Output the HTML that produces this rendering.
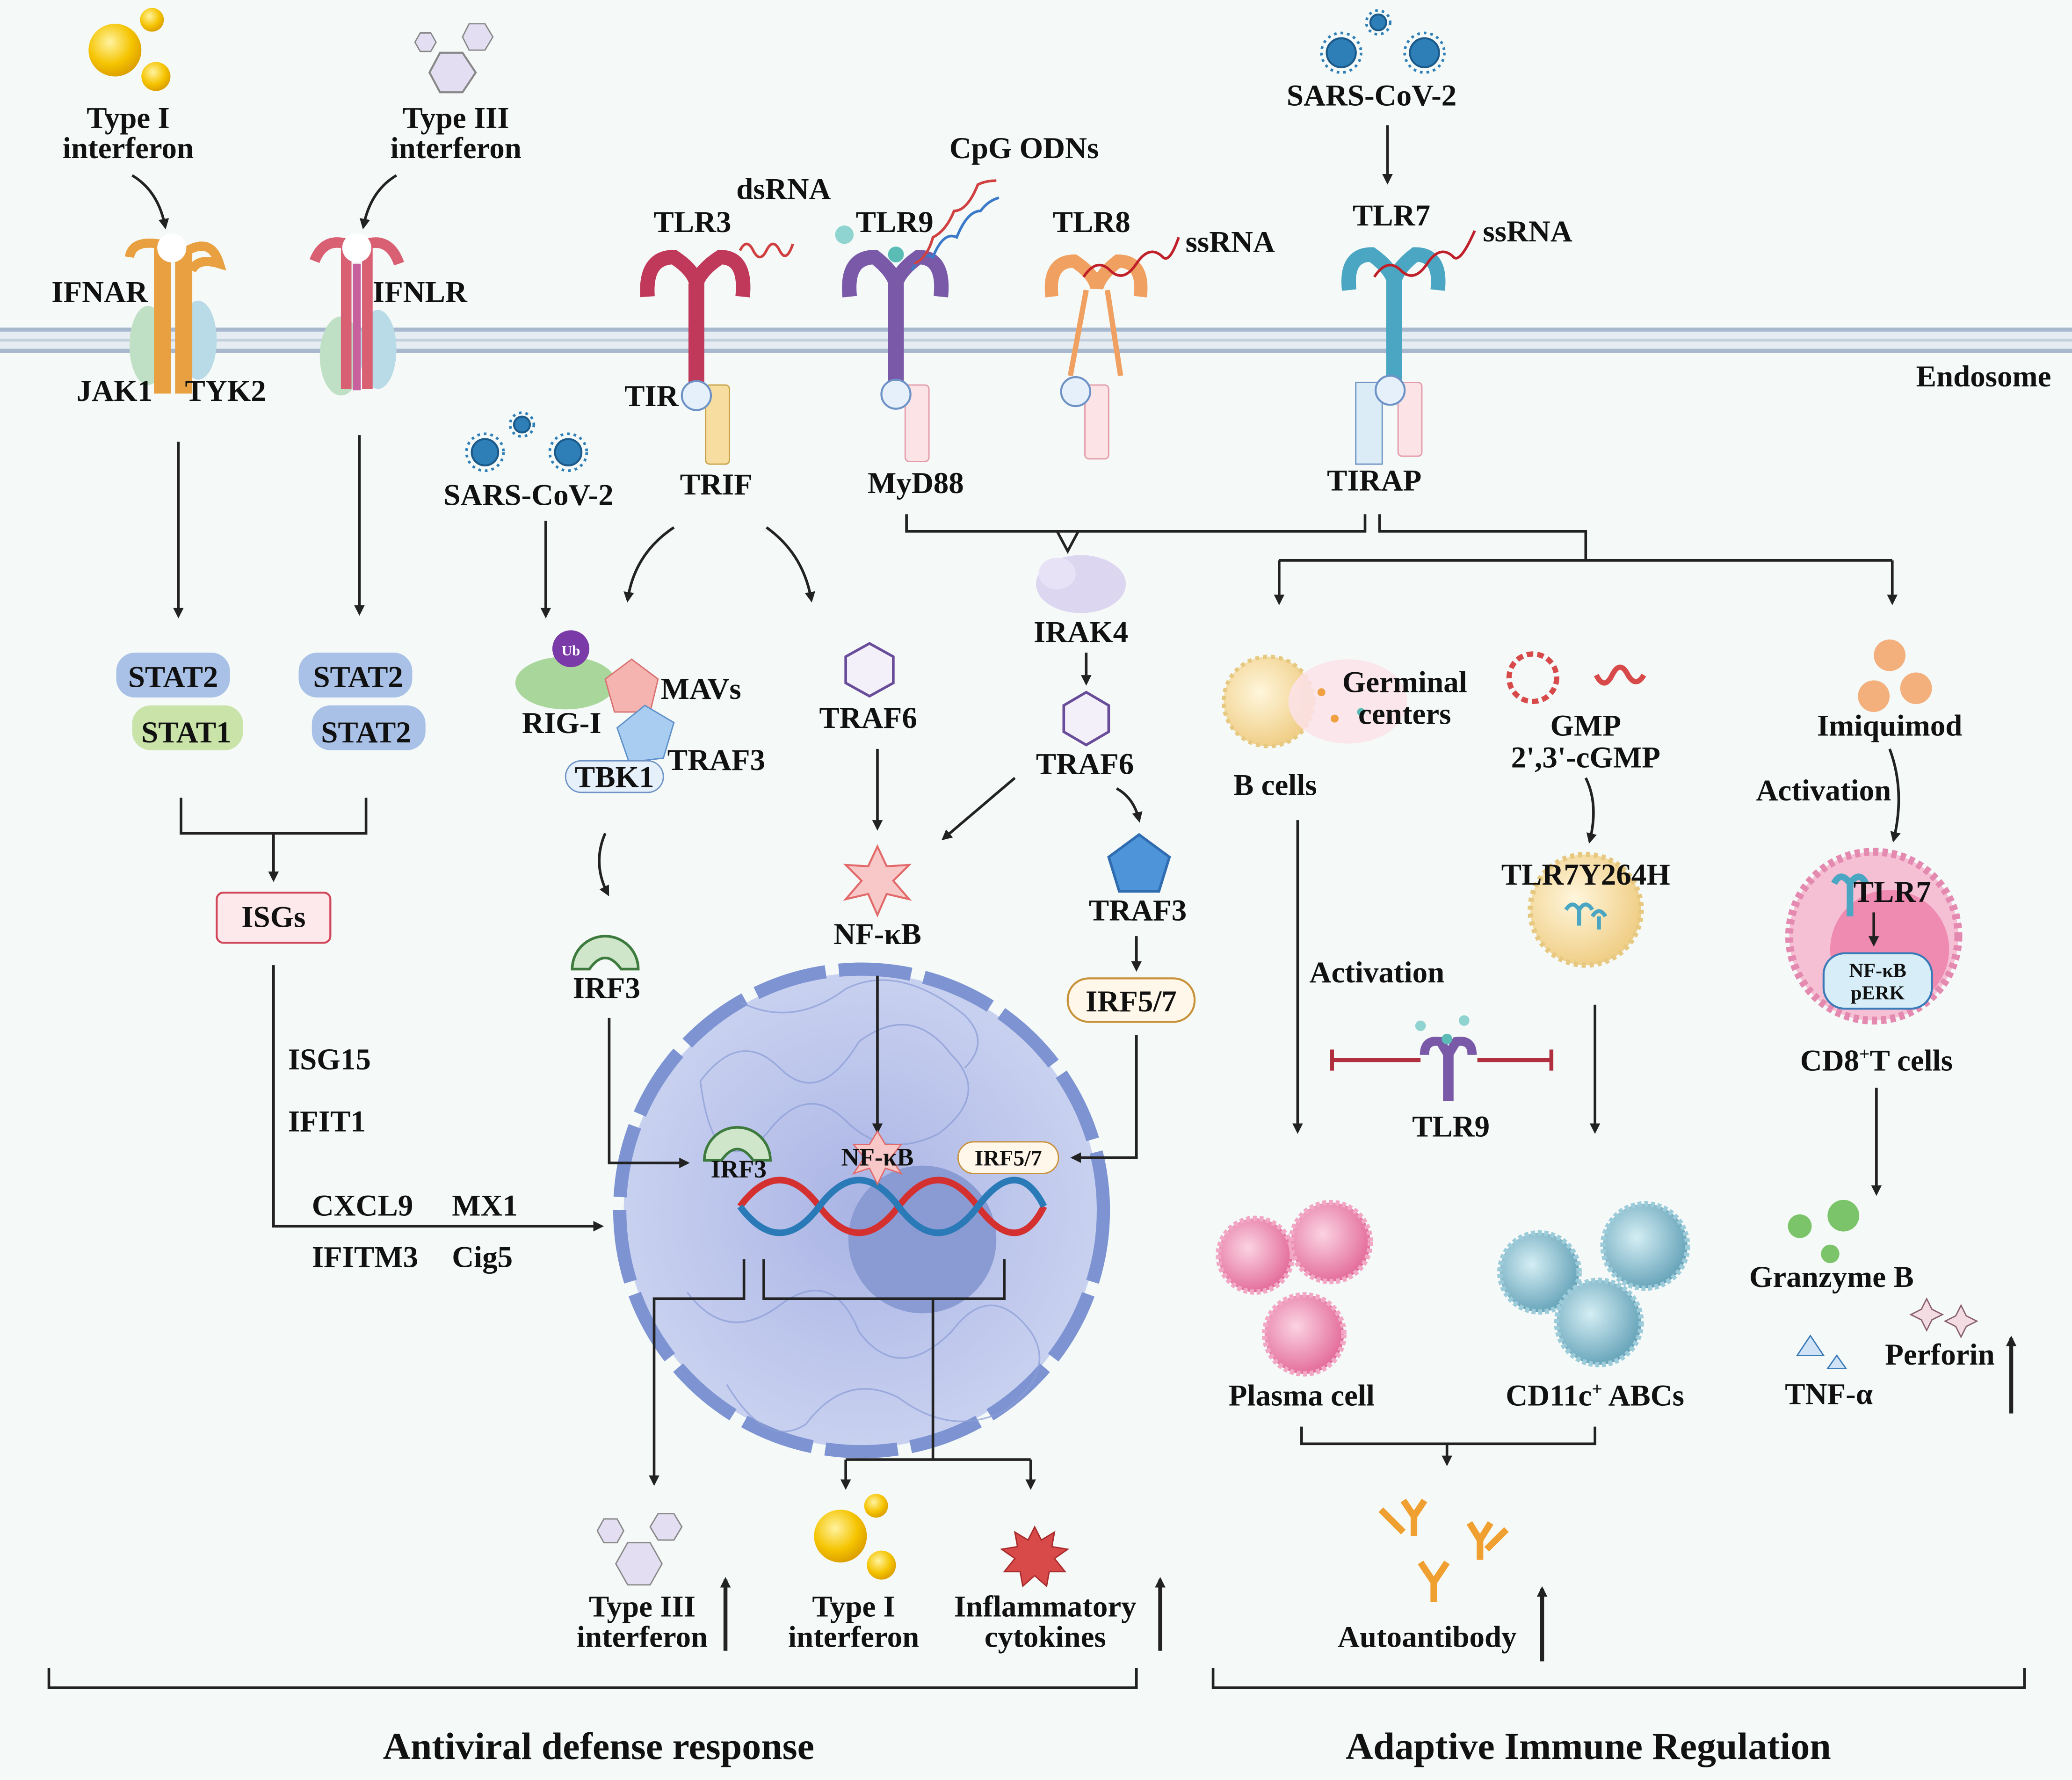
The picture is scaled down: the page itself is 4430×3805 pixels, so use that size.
<!DOCTYPE html>
<html><head><meta charset="utf-8"><style>
html,body{margin:0;padding:0;background:#f5faf9;}
svg{display:block;}
text{font-family:"Liberation Serif",serif;font-weight:bold;fill:#111;}
</style></head><body>
<svg width="4430" height="3805" viewBox="0 0 1568 1350" preserveAspectRatio="none" xmlns="http://www.w3.org/2000/svg">
<defs>
<marker id="a" markerWidth="8" markerHeight="8" refX="6" refY="4" orient="auto" markerUnits="userSpaceOnUse"><path d="M0,0 L8,4 L0,8 z" fill="#222"/></marker>
<radialGradient id="gy" cx="0.4" cy="0.35" r="0.7"><stop offset="0" stop-color="#fff3a0"/><stop offset="0.6" stop-color="#f5c400"/><stop offset="1" stop-color="#d99a00"/></radialGradient>
<radialGradient id="gn" cx="0.5" cy="0.5" r="0.5"><stop offset="0" stop-color="#aab4e4"/><stop offset="1" stop-color="#c9d1f0"/></radialGradient>
<radialGradient id="gp" cx="0.4" cy="0.4" r="0.6"><stop offset="0" stop-color="#fbd3e2"/><stop offset="1" stop-color="#e46f9c"/></radialGradient>
<radialGradient id="gb" cx="0.4" cy="0.4" r="0.6"><stop offset="0" stop-color="#d4eef4"/><stop offset="1" stop-color="#6aa6bb"/></radialGradient>
<radialGradient id="gc" cx="0.4" cy="0.4" r="0.6"><stop offset="0" stop-color="#fff6dc"/><stop offset="1" stop-color="#f0cf88"/></radialGradient>
</defs>
<rect width="1568" height="1350" fill="#f5faf9"/>
<rect x="0" y="249" width="1568" height="18" fill="#e5edf2"/>
<line x1="0" y1="250" x2="1568" y2="250" stroke="#a8b9cf" stroke-width="3"/>
<line x1="0" y1="258" x2="1568" y2="258" stroke="#c3cfdd" stroke-width="2"/>
<line x1="0" y1="266" x2="1568" y2="266" stroke="#a8b9cf" stroke-width="3"/>
<text x="1450" y="293" font-size="23">Endosome</text>

<circle cx="87" cy="38" r="20" fill="url(#gy)"/><circle cx="115" cy="15" r="9" fill="url(#gy)"/><circle cx="118" cy="58" r="11" fill="url(#gy)"/>
<text x="97" y="97" font-size="23" text-anchor="middle">Type I</text><text x="97" y="120" font-size="23" text-anchor="middle">interferon</text>
<path d="M100,133 Q120,145 125,172" fill="none" stroke="#222" stroke-width="2" marker-end="url(#a)"/>
<polygon points="333,40 350,40 360,55 350,70 333,70 325,55" fill="#e4def2" stroke="#888" stroke-width="1.5"/>
<polygon points="318,25 326,25 330,32 326,39 318,39 314,32" fill="#e4def2" stroke="#888"/>
<polygon points="355,18 367,18 373,28 367,38 355,38 350,28" fill="#e4def2" stroke="#888"/>
<text x="345" y="97" font-size="23" text-anchor="middle">Type III</text><text x="345" y="120" font-size="23" text-anchor="middle">interferon</text>
<path d="M300,133 Q280,145 275,172" fill="none" stroke="#222" stroke-width="2" marker-end="url(#a)"/>
<ellipse cx="112" cy="262" rx="14" ry="30" fill="#bfe0c4"/><ellipse cx="150" cy="258" rx="14" ry="30" fill="#b9dbe8"/>
<path d="M98,195 Q100,182 120,185 L120,295 L126,295 L126,190 Q132,180 136,192 L136,295 L142,295 L142,190 Q160,180 166,200 Q150,195 145,205" fill="none" stroke="#e8a040" stroke-width="7"/>
<circle cx="130" cy="188" r="11" fill="#fff"/>
<text x="39" y="229" font-size="23">IFNAR</text><text x="58" y="304" font-size="23">JAK1</text><text x="140" y="304" font-size="23">TYK2</text>
<ellipse cx="258" cy="270" rx="16" ry="30" fill="#bfe0c4"/><ellipse cx="286" cy="265" rx="14" ry="30" fill="#b9dbe8"/>
<path d="M238,198 Q245,180 262,185 L262,295 M278,295 L278,185 Q295,180 302,200" fill="none" stroke="#d95f72" stroke-width="8"/>
<line x1="270" y1="200" x2="270" y2="296" stroke="#c9609e" stroke-width="6"/>
<circle cx="270" cy="188" r="11" fill="#fff"/>
<text x="282" y="229" font-size="23">IFNLR</text>
<line x1="135" y1="335" x2="135" y2="467" stroke="#222" stroke-width="2" marker-end="url(#a)"/>
<line x1="272" y1="330" x2="272" y2="465" stroke="#222" stroke-width="2" marker-end="url(#a)"/>
<rect x="88" y="495" width="86" height="34" rx="14" fill="#a9c1e6"/><rect x="100" y="535" width="84" height="34" rx="14" fill="#c9e3a9"/>
<text x="131" y="521" font-size="23" text-anchor="middle">STAT2</text><text x="141" y="563" font-size="23" text-anchor="middle">STAT1</text>
<rect x="226" y="495" width="86" height="34" rx="14" fill="#a9c1e6"/><rect x="236" y="535" width="86" height="34" rx="14" fill="#a9c1e6"/>
<text x="271" y="521" font-size="23" text-anchor="middle">STAT2</text><text x="277" y="563" font-size="23" text-anchor="middle">STAT2</text>
<path d="M137,605 V632 H277 V605 M207,632 V667" fill="none" stroke="#222" stroke-width="2" marker-end="url(#a)"/>
<rect x="164" y="677" width="86" height="38" rx="5" fill="#fde9ec" stroke="#d0485a" stroke-width="1.5"/>
<text x="207" y="703" font-size="23" text-anchor="middle">ISGs</text>
<path d="M207,732 V930 H455" fill="none" stroke="#222" stroke-width="2" marker-end="url(#a)"/>
<text x="218" y="811" font-size="23">ISG15</text><text x="218" y="858" font-size="23">IFIT1</text>
<text x="236" y="922" font-size="23">CXCL9</text><text x="342" y="922" font-size="23">MX1</text>
<text x="236" y="961" font-size="23">IFITM3</text><text x="342" y="961" font-size="23">Cig5</text>

<g fill="#2e7fb8" stroke="#1c5a8a" stroke-width="1.5">
<circle cx="367" cy="343" r="10"/><circle cx="430" cy="343" r="10"/><circle cx="395" cy="322" r="6"/>
<circle cx="1015" cy="40" r="11"/><circle cx="1078" cy="40" r="11"/><circle cx="1043" cy="17" r="6"/>
</g>
<g stroke="#2e7fb8" stroke-width="2" stroke-dasharray="2 3" fill="none">
<circle cx="367" cy="343" r="14"/><circle cx="430" cy="343" r="14"/><circle cx="395" cy="322" r="9"/>
<circle cx="1015" cy="40" r="15"/><circle cx="1078" cy="40" r="15"/><circle cx="1043" cy="17" r="9"/>
</g>
<text x="400" y="383" font-size="23" text-anchor="middle">SARS-CoV-2</text>
<line x1="413" y1="395" x2="413" y2="467" stroke="#222" stroke-width="2" marker-end="url(#a)"/>
<text x="1038" y="80" font-size="23" text-anchor="middle">SARS-CoV-2</text>
<line x1="1050" y1="95" x2="1050" y2="138" stroke="#222" stroke-width="2" marker-end="url(#a)"/>

<path d="M490,225 Q488,195 510,195 Q525,205 527,215 Q530,205 545,195 Q565,195 562,225" fill="none" stroke="#c0395a" stroke-width="11"/>
<rect x="521" y="215" width="12" height="75" fill="#c0395a"/>
<rect x="534" y="292" width="18" height="60" rx="3" fill="#f7dea0" stroke="#c8a248"/>
<circle cx="527" cy="300" r="11" fill="#e6f0fb" stroke="#6e92c6" stroke-width="1.5"/>
<path d="M560,190 q5,-10 10,0 q5,10 10,0 q5,-10 10,0 q5,10 10,-5" fill="none" stroke="#d04040" stroke-width="2"/>
<text x="524" y="176" font-size="23" text-anchor="middle">TLR3</text><text x="593" y="151" font-size="23" text-anchor="middle">dsRNA</text>
<text x="493" y="308" font-size="23" text-anchor="middle">TIR</text><text x="542" y="375" font-size="23" text-anchor="middle">TRIF</text>
<path d="M643,225 Q640,195 662,195 Q675,205 678,215 Q681,205 695,195 Q715,195 712,225" fill="none" stroke="#7a5aa8" stroke-width="11"/>
<rect x="672" y="215" width="12" height="75" fill="#7a5aa8"/>
<rect x="685" y="292" width="18" height="58" rx="3" fill="#fbe3e6" stroke="#e49aa8"/>
<circle cx="678" cy="299" r="11" fill="#e6f0fb" stroke="#6e92c6" stroke-width="1.5"/>
<circle cx="639" cy="178" r="7" fill="#8fd4d0"/><circle cx="678" cy="193" r="6" fill="#5bbcb6"/>
<path d="M690,205 q8,-15 16,-10 q8,-20 18,-15 q8,-20 18,-20 q6,-8 14,-10" fill="none" stroke="#3a7ac8" stroke-width="2"/>
<path d="M692,200 q10,-5 14,-20 q10,-5 16,-20 q10,0 18,-20 q6,-3 14,-3" fill="none" stroke="#d04040" stroke-width="2"/>
<text x="677" y="176" font-size="23" text-anchor="middle">TLR9</text><text x="775" y="120" font-size="23" text-anchor="middle">CpG ODNs</text>
<text x="693" y="374" font-size="23" text-anchor="middle">MyD88</text>
<path d="M796,225 Q793,198 813,198 Q828,208 830,218 Q833,208 846,198 Q866,198 863,225" fill="none" stroke="#f0a060" stroke-width="10"/>
<path d="M822,220 L810,285 M838,220 L848,285" stroke="#f0a060" stroke-width="4"/>
<rect x="821" y="292" width="18" height="56" rx="3" fill="#fbe3e6" stroke="#e49aa8"/>
<circle cx="814" cy="297" r="11" fill="#e6f0fb" stroke="#6e92c6" stroke-width="1.5"/>
<path d="M820,210 q10,-15 20,-5 q10,10 20,-5 q10,-15 20,-5 q5,5 12,-15" fill="none" stroke="#c0202a" stroke-width="2"/>
<text x="826" y="176" font-size="23" text-anchor="middle">TLR8</text><text x="931" y="191" font-size="23" text-anchor="middle">ssRNA</text>
<path d="M1021,220 Q1018,193 1038,193 Q1052,203 1055,213 Q1058,203 1071,193 Q1091,193 1088,220" fill="none" stroke="#4aa6c2" stroke-width="11"/>
<rect x="1049" y="213" width="12" height="75" fill="#4aa6c2"/>
<rect x="1026" y="290" width="20" height="62" fill="#dcecf7" stroke="#6e92c6"/>
<rect x="1058" y="290" width="18" height="56" rx="3" fill="#fbe3e6" stroke="#e49aa8"/>
<circle cx="1052" cy="296" r="11" fill="#e6f0fb" stroke="#6e92c6" stroke-width="1.5"/>
<path d="M1040,210 q10,-15 20,-5 q10,10 20,-5 q10,-15 20,-5 q5,5 16,-20" fill="none" stroke="#c0202a" stroke-width="2"/>
<text x="1053" y="171" font-size="23" text-anchor="middle">TLR7</text><text x="1156" y="183" font-size="23" text-anchor="middle">ssRNA</text>
<text x="1040" y="372" font-size="23" text-anchor="middle">TIRAP</text>

<path d="M510,400 Q480,420 475,455" fill="none" stroke="#222" stroke-width="2" marker-end="url(#a)"/>
<path d="M580,400 Q608,420 614,455" fill="none" stroke="#222" stroke-width="2" marker-end="url(#a)"/>
<path d="M686,390 V403 H1033 V390 M800,403 L808,418 L816,403" fill="none" stroke="#222" stroke-width="2"/>
<path d="M1044,390 V403 H1200 V425 M968,425 H1432" fill="none" stroke="#222" stroke-width="2"/>
<line x1="968" y1="425" x2="968" y2="457" stroke="#222" stroke-width="2" marker-end="url(#a)"/>
<line x1="1432" y1="425" x2="1432" y2="457" stroke="#222" stroke-width="2" marker-end="url(#a)"/>
<ellipse cx="818" cy="443" rx="34" ry="22" fill="#ddd6f0"/><ellipse cx="800" cy="435" rx="14" ry="12" fill="#e8e2f6"/>
<text x="818" y="487" font-size="23" text-anchor="middle">IRAK4</text>
<line x1="822" y1="495" x2="822" y2="518" stroke="#222" stroke-width="2" marker-end="url(#a)"/>
<polygon points="822,525 839,535 839,555 822,565 805,555 805,535" fill="#f3f0fa" stroke="#6a4d9a" stroke-width="2"/>
<text x="821" y="587" font-size="23" text-anchor="middle">TRAF6</text>
<line x1="768" y1="590" x2="714" y2="636" stroke="#222" stroke-width="2" marker-end="url(#a)"/>
<path d="M845,598 Q858,605 862,622" fill="none" stroke="#222" stroke-width="2" marker-end="url(#a)"/>
<polygon points="862,633 885,650 877,676 847,676 839,650" fill="#4d94d8" stroke="#2f6cb0" stroke-width="2"/>
<text x="861" y="698" font-size="23" text-anchor="middle">TRAF3</text>
<line x1="860" y1="710" x2="860" y2="735" stroke="#222" stroke-width="2" marker-end="url(#a)"/>
<rect x="808" y="742" width="96" height="33" rx="16" fill="#fff8ea" stroke="#c8913a" stroke-width="1.5"/>
<text x="856" y="767" font-size="23" text-anchor="middle">IRF5/7</text>
<polygon points="658,488 676,498 676,518 658,528 640,518 640,498" fill="#f3f0fa" stroke="#6a4d9a" stroke-width="2"/>
<text x="657" y="552" font-size="23" text-anchor="middle">TRAF6</text>
<line x1="664" y1="568" x2="664" y2="628" stroke="#222" stroke-width="2" marker-end="url(#a)"/>
<polygon points="664,642 671,657 688,656 676,668 688,682 671,678 664,694 657,678 640,682 652,668 640,656 657,657" fill="#f8c8c8" stroke="#e26a6a" stroke-width="1.5"/>
<text x="664" y="716" font-size="23" text-anchor="middle">NF-κB</text>

<ellipse cx="428" cy="518" rx="38" ry="20" fill="#a9d69a"/>
<circle cx="432" cy="492" r="14" fill="#7a3aa8"/><text x="432" y="497" font-size="11" text-anchor="middle" style="fill:#fff">Ub</text>
<polygon points="478,500 498,515 492,540 465,540 458,515" fill="#f6b4b0" stroke="#d87070"/>
<polygon points="488,535 510,548 502,575 476,578 467,552" fill="#a9cdf0" stroke="#5d8fc8"/>
<rect x="428" y="577" width="74" height="24" rx="12" fill="#e6f0fb" stroke="#6e92c6"/>
<text x="500" y="530" font-size="23">MAVs</text><text x="395" y="556" font-size="23">RIG-I</text>
<text x="465" y="597" font-size="23" text-anchor="middle">TBK1</text><text x="505" y="584" font-size="23">TRAF3</text>
<path d="M458,632 Q448,655 460,678" fill="none" stroke="#222" stroke-width="2" marker-end="url(#a)"/>
<path d="M433,735 A25,25 0 1 1 483,735 L470,735 Q458,718 446,735 Z" fill="#cfe6cb" stroke="#3d7a3d" stroke-width="2"/>
<text x="459" y="757" font-size="23" text-anchor="middle">IRF3</text>

<circle cx="652" cy="918" r="180" fill="url(#gn)"/>
<circle cx="652" cy="918" r="183" fill="none" stroke="#7e94d2" stroke-width="10" stroke-dasharray="55 10"/>
<g fill="none" stroke="#8a9cd6" stroke-width="1.2" opacity="0.7">
<path d="M530,820 q30,-40 60,-10 q30,30 60,-20 q40,-30 70,10 q30,30 -10,60 q-40,20 -70,-10 q-30,-30 -60,10 q-40,40 -50,-40"/>
<path d="M520,980 q30,40 70,10 q40,-30 60,20 q30,40 70,0 q30,-40 60,0 q20,30 -20,60 q-40,20 -80,-10 q-40,-20 -70,20 q-30,20 -60,-30"/>
<path d="M560,760 q40,20 80,-10 q40,-20 90,20 q20,20 0,40"/>
</g>
<circle cx="698" cy="940" r="56" fill="#8a9bd4"/>
<path d="M461,772 V882 H520" fill="none" stroke="#222" stroke-width="2" marker-end="url(#a)"/>
<path d="M860,785 V878 H812" fill="none" stroke="#222" stroke-width="2" marker-end="url(#a)"/>
<line x1="664" y1="740" x2="664" y2="858" stroke="#222" stroke-width="2" marker-end="url(#a)"/>
<path d="M560,915 q30,-40 60,0 t60,0 t60,0 t50,0" fill="none" stroke="#d43030" stroke-width="5"/>
<path d="M560,915 q30,40 60,0 t60,0 t60,0 t50,0" fill="none" stroke="#2a7ab8" stroke-width="5"/>
<path d="M533,880 A25,25 0 1 1 583,880 L570,880 Q558,863 546,880 Z" fill="#cfe6cb" stroke="#3d7a3d" stroke-width="2"/>
<text x="559" y="893" font-size="19" text-anchor="middle">IRF3</text>
<polygon points="664,858 670,868 682,868 674,878 682,890 670,886 664,898 658,886 646,890 654,878 646,868 658,868" fill="#f8c8c8" stroke="#e26a6a"/>
<text x="664" y="884" font-size="19" text-anchor="middle">NF-κB</text>
<rect x="725" y="866" width="76" height="24" rx="12" fill="#fff8ea" stroke="#c8913a"/>
<text x="763" y="884" font-size="17" text-anchor="middle">IRF5/7</text>
<path d="M563,955 V985 H495 V1125" fill="none" stroke="#222" stroke-width="2" marker-end="url(#a)"/>
<path d="M578,955 V985 H760 V955 M706,985 V1107 M640,1107 H780" fill="none" stroke="#222" stroke-width="2"/>
<line x1="640" y1="1107" x2="640" y2="1128" stroke="#222" stroke-width="2" marker-end="url(#a)"/>
<line x1="780" y1="1107" x2="780" y2="1128" stroke="#222" stroke-width="2" marker-end="url(#a)"/>
<polygon points="475,1170 492,1170 501,1186 492,1202 475,1202 466,1186" fill="#e4def2" stroke="#888"/>
<polygon points="457,1152 467,1152 472,1161 467,1170 457,1170 452,1161" fill="#e4def2" stroke="#888"/>
<polygon points="498,1148 510,1148 516,1158 510,1168 498,1168 492,1158" fill="#e4def2" stroke="#888"/>
<text x="486" y="1226" font-size="23" text-anchor="middle">Type III</text><text x="486" y="1249" font-size="23" text-anchor="middle">interferon</text>
<line x1="549" y1="1252" x2="549" y2="1198" stroke="#222" stroke-width="3" marker-end="url(#a)"/>
<circle cx="636" cy="1165" r="20" fill="url(#gy)"/><circle cx="663" cy="1142" r="9" fill="url(#gy)"/><circle cx="667" cy="1187" r="11" fill="url(#gy)"/>
<text x="646" y="1226" font-size="23" text-anchor="middle">Type I</text><text x="646" y="1249" font-size="23" text-anchor="middle">interferon</text>
<polygon points="783,1158 788,1168 798,1162 796,1173 808,1175 798,1182 806,1192 794,1192 792,1203 783,1195 774,1203 772,1192 760,1192 768,1182 758,1175 770,1173 768,1162 778,1168" fill="#d84a4a" stroke="#a82a2a"/>
<text x="791" y="1226" font-size="23" text-anchor="middle">Inflammatory</text><text x="791" y="1249" font-size="23" text-anchor="middle">cytokines</text>
<line x1="878" y1="1252" x2="878" y2="1198" stroke="#222" stroke-width="3" marker-end="url(#a)"/>
<path d="M37,1265 V1280 H860 V1265" fill="none" stroke="#222" stroke-width="2"/>
<text x="453" y="1334" font-size="29" text-anchor="middle">Antiviral defense response</text>

<circle cx="960" cy="532" r="34" fill="url(#gc)" stroke="#e6c880" stroke-width="3" stroke-dasharray="3 3"/>
<ellipse cx="1020" cy="532" rx="45" ry="32" fill="#fbe2ea" opacity="0.85"/>
<circle cx="1000" cy="525" r="3" fill="#f0a040"/><circle cx="1030" cy="540" r="3" fill="#5bbcb6"/><circle cx="1010" cy="545" r="3" fill="#f0a040"/>
<text x="1063" y="525" font-size="23" text-anchor="middle">Germinal</text><text x="1063" y="549" font-size="23" text-anchor="middle">centers</text>
<text x="965" y="603" font-size="23" text-anchor="middle">B cells</text>
<line x1="982" y1="622" x2="982" y2="858" stroke="#222" stroke-width="2" marker-end="url(#a)"/>
<text x="1042" y="745" font-size="23" text-anchor="middle">Activation</text>
<path d="M1008,796 V812 M1008,804 H1075 M1118,804 H1174 M1174,796 V812" fill="none" stroke="#b03040" stroke-width="3"/>
<path d="M1078,800 Q1078,788 1090,790 L1096,800 L1102,790 Q1114,788 1114,800" fill="none" stroke="#7a5aa8" stroke-width="7"/>
<rect x="1092" y="795" width="8" height="40" fill="#7a5aa8"/>
<circle cx="1075" cy="778" r="4" fill="#8fd4d0"/><circle cx="1108" cy="774" r="4" fill="#8fd4d0"/><circle cx="1095" cy="788" r="4" fill="#5bbcb6"/>
<text x="1098" y="862" font-size="23" text-anchor="middle">TLR9</text>
<g fill="none" stroke="#d84a4a" stroke-width="4">
<circle cx="1160" cy="514" r="18" stroke-dasharray="5 3"/>
<path d="M1208,512 q6,12 12,0 q6,-12 12,0 q6,10 12,0" />
</g>
<text x="1200" y="558" font-size="23" text-anchor="middle">GMP</text><text x="1200" y="582" font-size="23" text-anchor="middle">2',3'-cGMP</text>
<path d="M1200,590 Q1210,610 1203,638" fill="none" stroke="#222" stroke-width="2" marker-end="url(#a)"/>
<circle cx="1200" cy="690" r="42" fill="url(#gc)" stroke="#e6c880" stroke-width="4" stroke-dasharray="3 3"/>
<path d="M1185,690 q5,-8 10,0 q5,-8 10,0 M1195,690 v12 M1205,695 q5,-8 10,0 M1210,695 v10" stroke="#4aa6c2" stroke-width="3" fill="none"/>
<text x="1200" y="671" font-size="23" text-anchor="middle">TLR7Y264H</text>
<line x1="1207" y1="762" x2="1207" y2="858" stroke="#222" stroke-width="2" marker-end="url(#a)"/>
<circle cx="1430" cy="497" r="12" fill="#f4b07c"/><circle cx="1418" cy="528" r="12" fill="#f4b07c"/><circle cx="1450" cy="522" r="12" fill="#f4b07c"/>
<text x="1430" y="558" font-size="23" text-anchor="middle">Imiquimod</text>
<text x="1380" y="607" font-size="23" text-anchor="middle">Activation</text>
<path d="M1430,568 Q1442,600 1433,637" fill="none" stroke="#222" stroke-width="2" marker-end="url(#a)"/>
<circle cx="1418" cy="710" r="64" fill="#f6c0d4" stroke="#e48ab0" stroke-width="6" stroke-dasharray="4 3"/>
<circle cx="1430" cy="720" r="45" fill="#ef8ab0"/>
<path d="M1388,670 q5,-10 12,0 q7,-10 12,0 M1400,670 v25" stroke="#4aa6c2" stroke-width="5" fill="none"/>
<text x="1432" y="684" font-size="23" text-anchor="middle">TLR7</text>
<line x1="1418" y1="692" x2="1418" y2="716" stroke="#222" stroke-width="2" marker-end="url(#a)"/>
<rect x="1380" y="723" width="82" height="42" rx="16" fill="#d7eef8" stroke="#3a7ab8" stroke-width="1.5"/>
<text x="1421" y="741" font-size="15" text-anchor="middle">NF-κB</text><text x="1421" y="758" font-size="15" text-anchor="middle">pERK</text>
<text x="1420" y="812" font-size="23" text-anchor="middle">CD8<tspan font-size="14" dy="-8">+</tspan><tspan dy="8">T cells</tspan></text>
<line x1="1420" y1="825" x2="1420" y2="905" stroke="#222" stroke-width="2" marker-end="url(#a)"/>
<circle cx="1362" cy="930" r="9" fill="#7cc46a"/><circle cx="1395" cy="922" r="12" fill="#7cc46a"/><circle cx="1385" cy="951" r="7" fill="#7cc46a"/>
<text x="1386" y="976" font-size="23" text-anchor="middle">Granzyme B</text>
<path d="M1458,985 l4,8 l8,4 l-8,4 l-4,8 l-4,-8 l-8,-4 l8,-4z M1484,990 l4,8 l8,4 l-8,4 l-4,8 l-4,-8 l-8,-4 l8,-4z" fill="#f3dde3" stroke="#8a6070"/>
<polygon points="1370,1013 1380,1028 1360,1028" fill="#cfe2f6" stroke="#3a7ab8"/><polygon points="1390,1028 1397,1038 1383,1038" fill="#cfe2f6" stroke="#3a7ab8"/>
<text x="1468" y="1035" font-size="23" text-anchor="middle">Perforin</text>
<text x="1384" y="1065" font-size="23" text-anchor="middle">TNF-α</text>
<line x1="1522" y1="1072" x2="1522" y2="1015" stroke="#222" stroke-width="3" marker-end="url(#a)"/>
<g stroke-width="4" stroke-dasharray="3 2">
<circle cx="950" cy="952" r="28" fill="url(#gp)" stroke="#f2a8c4"/>
<circle cx="1007" cy="942" r="30" fill="url(#gp)" stroke="#f2a8c4"/>
<circle cx="987" cy="1012" r="30" fill="url(#gp)" stroke="#f2a8c4"/>
<circle cx="1165" cy="965" r="30" fill="url(#gb)" stroke="#9ccbd9"/>
<circle cx="1245" cy="945" r="32" fill="url(#gb)" stroke="#9ccbd9"/>
<circle cx="1210" cy="1003" r="32" fill="url(#gb)" stroke="#9ccbd9"/>
</g>
<text x="985" y="1066" font-size="23" text-anchor="middle">Plasma cell</text>
<text x="1207" y="1066" font-size="23" text-anchor="middle">CD11c<tspan font-size="14" dy="-8">+</tspan><tspan dy="8"> ABCs</tspan></text>
<path d="M985,1082 V1095 H1207 V1082 M1095,1095 V1110" fill="none" stroke="#222" stroke-width="2" marker-end="url(#a)"/>
<g fill="none" stroke="#f0a030" stroke-width="5">
<path d="M1062,1138 L1070,1150 L1078,1138 M1070,1150 V1165 M1045,1145 L1062,1162"/>
<path d="M1112,1155 L1120,1168 L1128,1155 M1120,1168 V1183 M1140,1160 L1125,1175"/>
<path d="M1075,1185 L1085,1200 L1095,1185 M1085,1200 V1215"/>
</g>
<text x="1080" y="1249" font-size="23" text-anchor="middle">Autoantibody</text>
<line x1="1167" y1="1260" x2="1167" y2="1205" stroke="#222" stroke-width="3" marker-end="url(#a)"/>
<path d="M918,1265 V1280 H1532 V1265" fill="none" stroke="#222" stroke-width="2"/>
<text x="1202" y="1334" font-size="29" text-anchor="middle">Adaptive Immune Regulation</text>
</svg>
</body></html>
